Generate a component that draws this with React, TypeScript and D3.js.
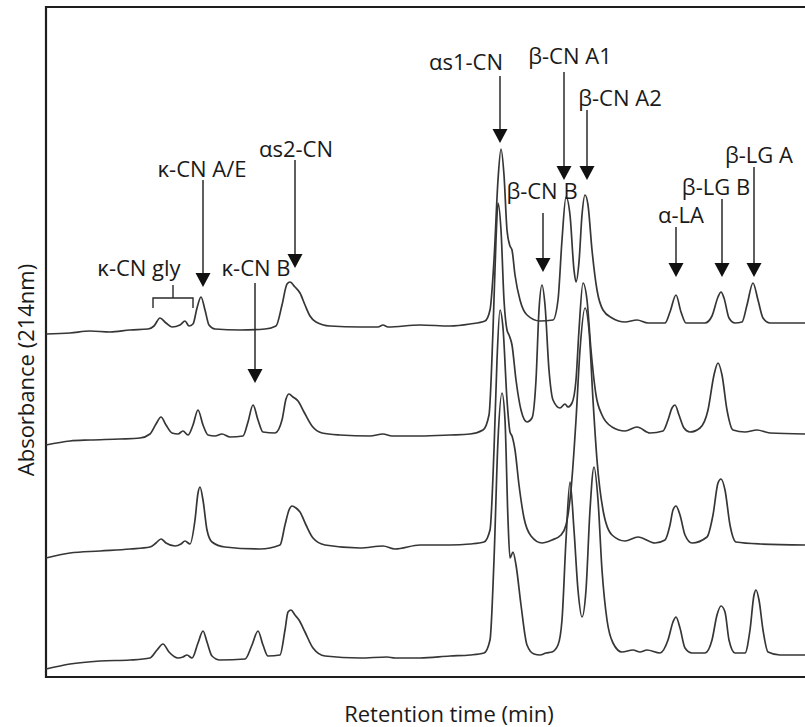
import React from "react";
import * as d3 from "d3";

// Retention time (min) / absorbance (mAU, stacked)
const trace1: [number, number][] = [
  [4.6, 343], [7.0, 344], [9.0, 346], [11.0, 345], [13.0, 347], [14.8, 348], [15.4, 351], [16.0, 359],
  [16.6, 354], [17.2, 350], [18.0, 352], [18.5, 356], [18.9, 351], [19.3, 353], [19.7, 369], [20.1, 380],
  [20.5, 367], [20.9, 352], [21.5, 348], [24.0, 347], [26.5, 348], [27.6, 351], [28.2, 372], [28.7, 393],
  [29.0, 395], [29.5, 390], [30.0, 384], [30.5, 372], [31.0, 361], [31.6, 355], [33.0, 351], [36.0, 350],
  [37.8, 350], [38.3, 352], [38.8, 350], [42.0, 352], [45.0, 351], [47.0, 353], [48.5, 356], [49.0, 367],
  [49.4, 417], [49.8, 497], [50.1, 528], [50.4, 502], [50.7, 447], [51.0, 431], [51.2, 427], [51.5, 402],
  [52.0, 377], [52.7, 362], [54.0, 356], [55.3, 357], [55.8, 377], [56.2, 437], [56.6, 480], [57.0, 462],
  [57.4, 407], [57.6, 395], [57.9, 415], [58.2, 462], [58.5, 482], [58.8, 472], [59.2, 427], [59.7, 387],
  [60.3, 367], [61.2, 359], [62.5, 355], [63.7, 357], [64.8, 354], [66.5, 354], [67.0, 365], [67.6, 382],
  [68.1, 365], [68.6, 354], [70.5, 354], [71.2, 361], [71.8, 380], [72.1, 385], [72.4, 379], [72.9, 359],
  [73.5, 354], [74.2, 355], [74.7, 372], [75.3, 394], [75.8, 377], [76.3, 359], [77.0, 354], [79.0, 354],
  [80.5, 354],
];

const trace2: [number, number][] = [
  [4.6, 232], [7.0, 236], [9.0, 237], [12.0, 238], [14.0, 239], [15.0, 243], [15.6, 253], [16.1, 260],
  [16.6, 252], [17.2, 244], [17.8, 243], [18.3, 246], [18.8, 242], [19.3, 252], [19.8, 267], [20.3, 252],
  [20.8, 242], [21.5, 241], [22.2, 243], [23.0, 240], [24.3, 241], [24.8, 255], [25.3, 272], [25.8, 257],
  [26.3, 245], [27.5, 244], [28.2, 257], [28.6, 278], [28.9, 283], [29.3, 280], [29.8, 276], [30.4, 265],
  [31.2, 251], [32.2, 244], [34.0, 242], [37.0, 241], [38.3, 243], [39.2, 241], [42.0, 241], [45.0, 242],
  [47.0, 243], [48.3, 247], [48.9, 262], [49.3, 347], [49.6, 437], [49.8, 474], [50.1, 447], [50.4, 377],
  [50.7, 347], [50.9, 342], [51.2, 332], [51.6, 297], [52.1, 267], [52.7, 255], [53.2, 259], [53.6, 297],
  [53.9, 367], [54.2, 392], [54.5, 372], [54.9, 307], [55.3, 277], [56.0, 269], [56.5, 273], [56.8, 270],
  [57.2, 274], [57.6, 297], [57.9, 347], [58.3, 394], [58.7, 377], [59.1, 327], [59.6, 282], [60.2, 262],
  [61.2, 250], [62.5, 246], [63.7, 250], [65.0, 244], [66.3, 246], [66.8, 257], [67.2, 269], [67.5, 272],
  [67.9, 262], [68.4, 249], [69.0, 245], [70.0, 249], [70.8, 267], [71.4, 302], [71.8, 314], [72.2, 302],
  [72.7, 267], [73.3, 247], [74.5, 245], [75.7, 247], [77.0, 244], [80.5, 243],
];

const trace3: [number, number][] = [
  [4.6, 119], [7.0, 124], [10.0, 126], [13.0, 128], [15.0, 130], [15.6, 134], [16.1, 138], [16.6, 134],
  [17.5, 131], [18.1, 133], [18.5, 136], [19.0, 133], [19.5, 157], [19.8, 184], [20.0, 190], [20.3, 177],
  [20.7, 147], [21.2, 135], [22.5, 130], [26.0, 128], [28.0, 132], [28.5, 152], [28.9, 167], [29.2, 171],
  [29.6, 169], [30.0, 165], [30.6, 152], [31.3, 139], [32.5, 132], [36.0, 129], [38.3, 131], [39.5, 128],
  [42.0, 132], [45.0, 132], [47.0, 133], [48.4, 135], [49.0, 147], [49.4, 227], [49.7, 317], [50.0, 367],
  [50.3, 349], [50.7, 277], [51.0, 245], [51.2, 241], [51.5, 227], [51.9, 192], [52.4, 159], [53.1, 141],
  [54.2, 134], [55.2, 137], [56.1, 142], [56.6, 152], [57.1, 187], [57.6, 257], [58.0, 327], [58.5, 369],
  [58.9, 347], [59.3, 277], [59.7, 217], [60.3, 167], [61.2, 142], [62.5, 136], [63.8, 140], [65.5, 134],
  [66.5, 137], [67.0, 152], [67.3, 167], [67.6, 171], [68.0, 162], [68.5, 142], [69.2, 134], [70.7, 140],
  [71.3, 162], [71.8, 194], [72.1, 198], [72.5, 187], [73.0, 152], [73.6, 135], [76.0, 133], [80.5, 132],
];

const trace4: [number, number][] = [
  [4.6, 8], [7.0, 13], [10.0, 16], [13.0, 17], [15.0, 19], [15.7, 27], [16.3, 33], [16.9, 25],
  [17.8, 19], [18.3, 20], [18.7, 22], [19.2, 19], [19.8, 34], [20.3, 46], [20.7, 35], [21.2, 21],
  [22.0, 17], [24.5, 18], [25.2, 32], [25.8, 46], [26.3, 32], [26.8, 21], [28.0, 22], [28.5, 47],
  [28.8, 65], [29.1, 67], [29.5, 62], [29.9, 57], [30.5, 45], [31.3, 29], [32.5, 21], [36.0, 19],
  [38.7, 20], [39.5, 19], [42.0, 19], [45.0, 21], [47.0, 22], [48.4, 24], [49.0, 37], [49.4, 117],
  [49.8, 237], [50.2, 284], [50.5, 257], [50.8, 157], [51.0, 119], [51.3, 125], [51.6, 112], [52.1, 72],
  [52.7, 32], [53.4, 23], [54.0, 22], [54.6, 24], [55.2, 25], [55.8, 32], [56.2, 57], [56.6, 137],
  [57.0, 195], [57.4, 147], [57.8, 87], [58.2, 60], [58.6, 87], [59.0, 167], [59.4, 210], [59.8, 177],
  [60.2, 107], [60.7, 57], [61.3, 34], [62.2, 25], [63.3, 27], [64.0, 25], [64.7, 27], [66.0, 24],
  [66.8, 37], [67.3, 55], [67.6, 60], [68.0, 49], [68.5, 29], [69.2, 24], [70.5, 24], [71.2, 37],
  [71.7, 62], [72.1, 71], [72.5, 65], [72.9, 37], [73.5, 24], [74.5, 24], [75.0, 47], [75.4, 82],
  [75.6, 87], [75.9, 77], [76.3, 47], [76.8, 25], [78.0, 22], [80.5, 22],
];

const traces = [trace1, trace2, trace3, trace4];

// Peak annotations: label, label centre time, label baseline level, arrow time, arrow top, arrow tip
const annLabels = ["κ-CN A/E", "αs2-CN", "κ-CN B", "αs1-CN", "β-CN A1", "β-CN A2", "β-CN B", "α-LA", "β-LG B", "β-LG A"];
const annTextX = [20.2, 29.6, 25.6, 46.6, 57.0, 62.0, 54.2, 68.1, 71.6, 75.9];
const annTextY = [500, 520, 401, 607, 613, 571, 478, 454, 482, 514];
const annArrowX = [20.3, 29.5, 25.5, 50.0, 56.4, 58.7, 54.3, 67.6, 72.2, 75.4];
const annArrowTop = [497, 517, 394, 601, 605, 567, 464, 450, 478, 510];
const annArrowTip = [390, 409, 294, 534, 497, 497, 405, 400, 400, 400];

// κ-CN gly bracket annotation
const glyLabel = "κ-CN gly";
const glyText = [13.9, 401];
const glyBracket = { x0: 15.3, x1: 19.3, xm: 17.3, y: 379, yEnd: 369, yTop: 392 };

const xTitle = "Retention time (min)";
const yTitle = "Absorbance (214nm)";

const W = 805;
const H = 727;
const FONT = "'Open Sans', 'Noto Sans', sans-serif";
const FS = 22;

export default function App() {
  const x = d3.scaleLinear().domain([4.6, 80.6]).range([46, 806]);
  const y = d3.scaleLinear().domain([0, 670]).range([677, 7]);
  const line = d3
    .line<[number, number]>()
    .x((d) => x(d[0]))
    .y((d) => y(d[1]))
    .curve(d3.curveMonotoneX);

  const left = x(4.6);
  const top = y(670);
  const bottom = y(0);
  const right = 812;
  const head = 14;
  const halfW = 7.5;
  const ink = "#2a2a2a";

  return (
    <svg width={W} height={H} style={{ display: "block", position: "absolute", left: 0, top: 0 }}>
      <rect width={W} height={H} fill="#fff" />
      {/* frame */}
      <path
        d={`M${right},${top}H${left}V${bottom}H${right}`}
        fill="none"
        stroke="#1e1e1e"
        strokeWidth={2.2}
      />
      {/* traces */}
      {traces.map((t, i) => (
        <path key={i} d={line(t) || ""} fill="none" stroke="#363636" strokeWidth={1.7} strokeLinejoin="round" />
      ))}
      {/* arrows */}
      {annLabels.map((lab, i) => {
        const ax = x(annArrowX[i]);
        const tip = y(annArrowTip[i]);
        return (
          <g key={lab}>
            <line x1={ax} x2={ax} y1={y(annArrowTop[i])} y2={tip - head + 1} stroke={ink} strokeWidth={1.5} />
            <path d={`M${ax - halfW},${tip - head}L${ax + halfW},${tip - head}L${ax},${tip}Z`} fill="#111" />
            <text
              x={x(annTextX[i])}
              y={y(annTextY[i])}
              textAnchor="middle"
              fontFamily={FONT}
              fontSize={FS}
              fill="#1a1a1a"
            >
              {lab}
            </text>
          </g>
        );
      })}
      {/* κ-CN gly bracket */}
      <text x={x(glyText[0])} y={y(glyText[1])} textAnchor="middle" fontFamily={FONT} fontSize={FS} fill="#1a1a1a">
        {glyLabel}
      </text>
      <path
        d={`M${x(glyBracket.x0)},${y(glyBracket.yEnd)}V${y(glyBracket.y)}H${x(glyBracket.x1)}V${y(glyBracket.yEnd)}M${x(
          glyBracket.xm
        )},${y(glyBracket.y)}V${y(glyBracket.yTop)}`}
        fill="none"
        stroke={ink}
        strokeWidth={1.4}
      />
      {/* axis titles */}
      <text x={449} y={722} textAnchor="middle" fontFamily={FONT} fontSize={FS} fill="#1a1a1a">
        {xTitle}
      </text>
      <text
        transform={`translate(34, ${(top + bottom) / 2 + 28}) rotate(-90)`}
        textAnchor="middle"
        fontFamily={FONT}
        fontSize={FS}
        fill="#1a1a1a"
      >
        {yTitle}
      </text>
    </svg>
  );
}
